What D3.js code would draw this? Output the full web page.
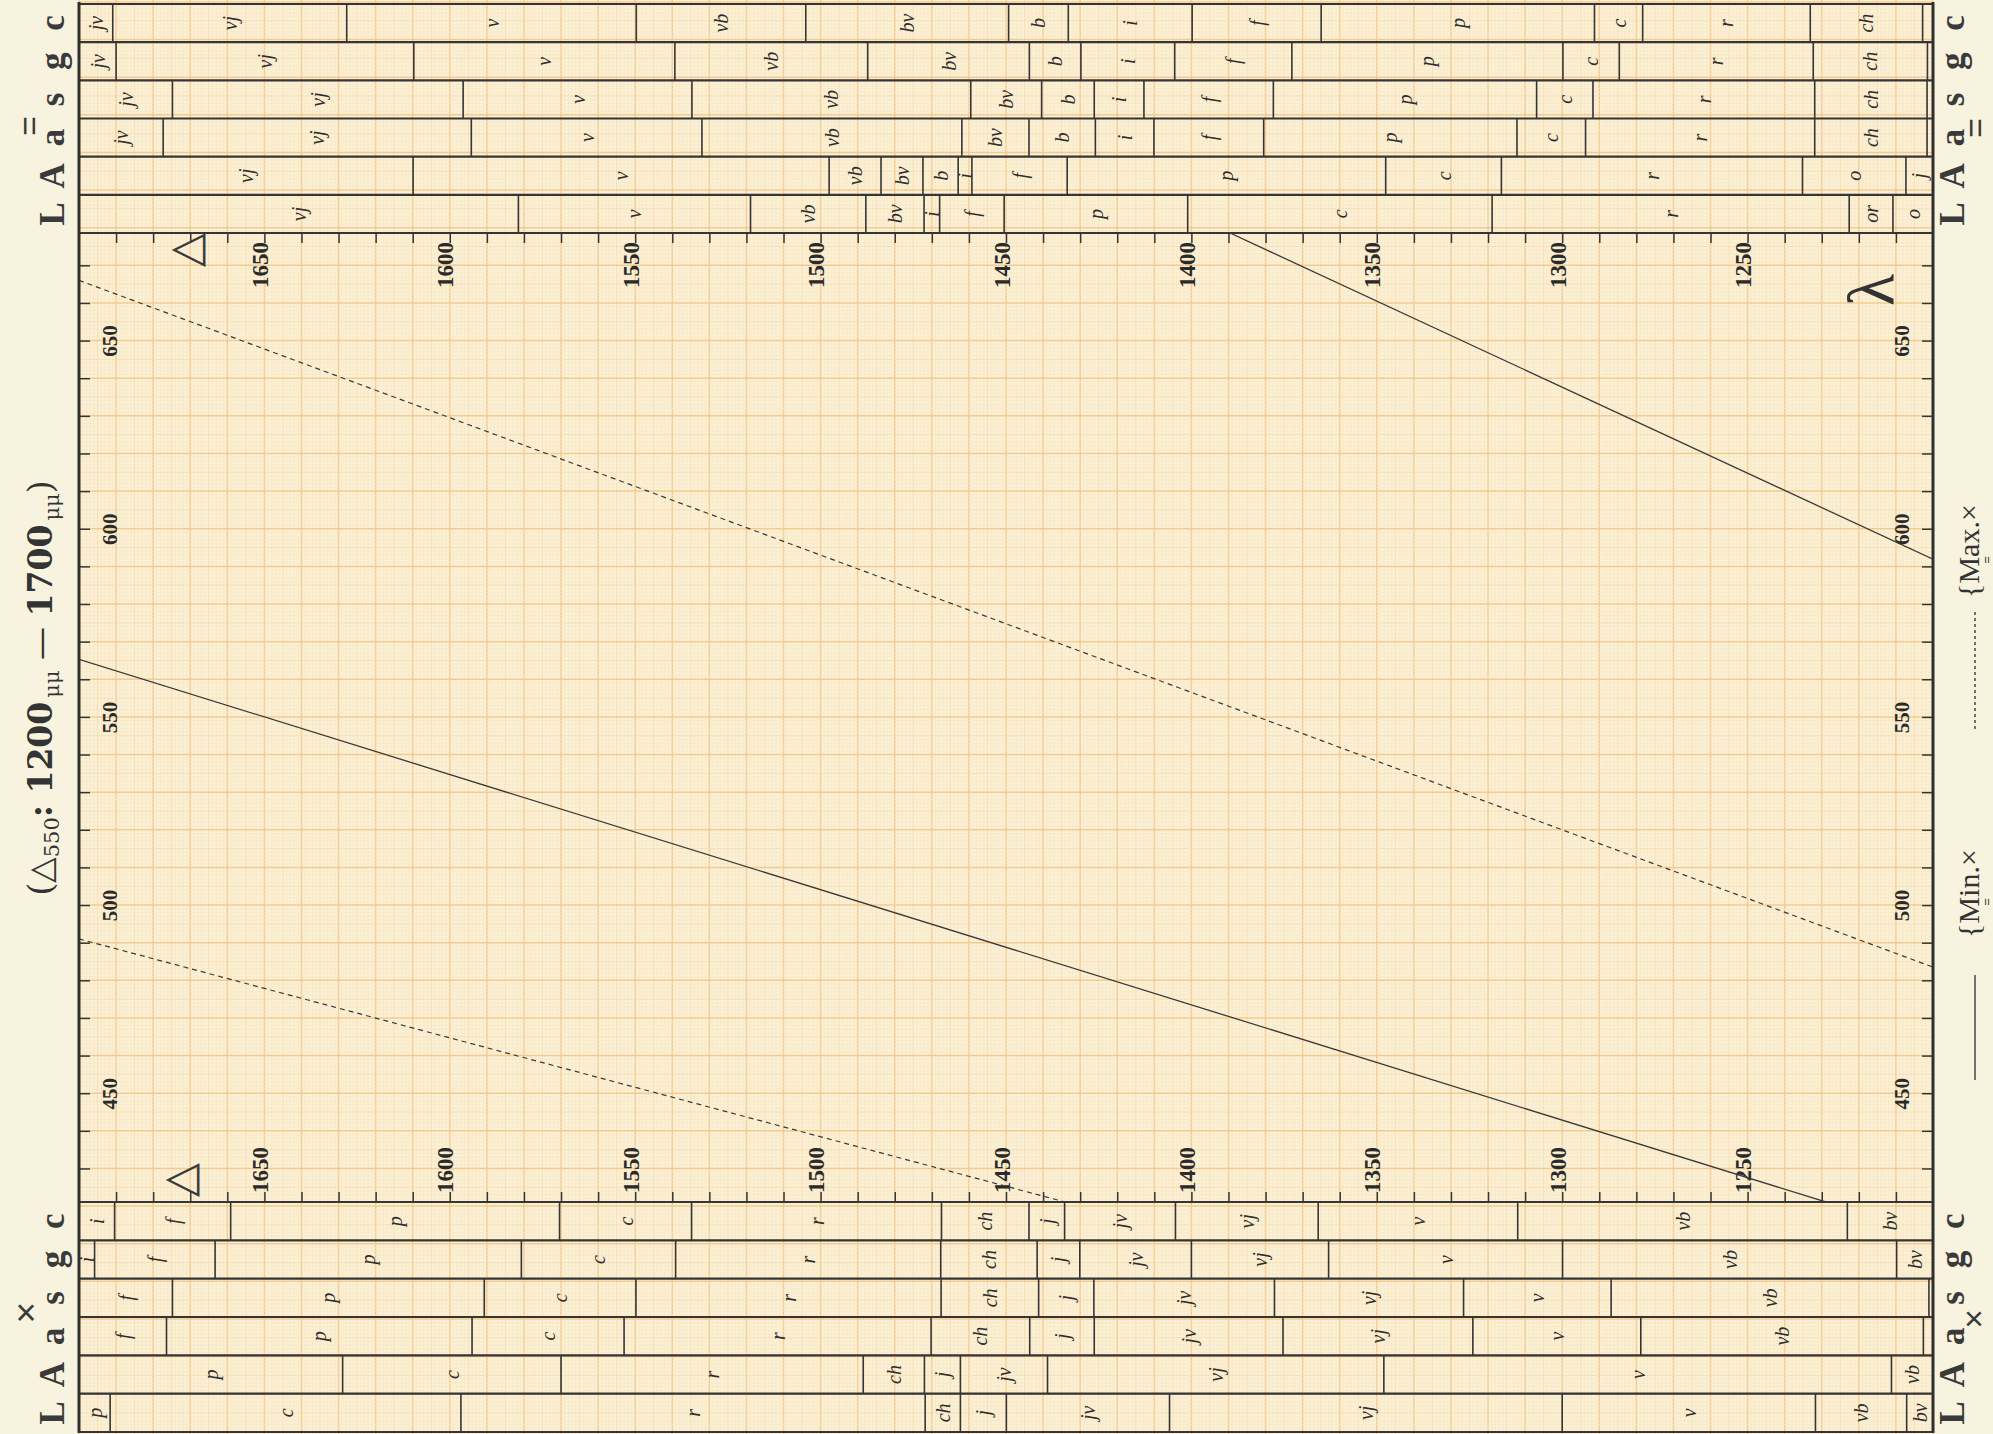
<!DOCTYPE html>
<html>
<head>
<meta charset="utf-8">
<script src="https://cdn.jsdelivr.net/npm/d3@7"></script>
<style>
html, body { margin: 0; padding: 0; background: #f8f3df; }
svg { display: block; }
</style>
</head>
<body>
<script>
// page size
let width = 1993,
    height = 1434;

// rows of both colour bands, top to bottom
const rowNames = ['c', 'g', 's', 'a', 'A', 'L'];

// parallel nicols band (top): cell limits in Δ (μμ) and colour names per row
const parBreaks = [
    [1690.9, 1627.8, 1549.7, 1504.0, 1449.3, 1433.2, 1399.8, 1365.0, 1291.3, 1278.3, 1233.1, 1202.8],
    [1690.0, 1609.7, 1539.3, 1487.3, 1443.7, 1429.8, 1404.5, 1372.9, 1299.8, 1284.6, 1232.3, 1201.5],
    [1674.8, 1596.4, 1534.7, 1459.5, 1440.4, 1426.2, 1412.8, 1377.9, 1306.9, 1291.7, 1231.9, 1201.6],
    [1677.3, 1594.2, 1532.0, 1461.9, 1443.8, 1425.9, 1410.1, 1380.5, 1312.2, 1293.7, 1231.9, 1201.6],
    [1609.9, 1497.7, 1483.7, 1472.4, 1462.9, 1459.2, 1433.5, 1347.6, 1316.4, 1235.2, 1207.3],
    [1581.5, 1518.9, 1487.8, 1472.1, 1467.9, 1450.5, 1401.0, 1318.9, 1222.6, 1210.8]
];
const parColours = [
    ['jv', 'vj', 'v', 'vb', 'bv', 'b', 'i', 'f', 'p', 'c', 'r', 'ch', ''],
    ['jv', 'vj', 'v', 'vb', 'bv', 'b', 'i', 'f', 'p', 'c', 'r', 'ch', ''],
    ['jv', 'vj', 'v', 'vb', 'bv', 'b', 'i', 'f', 'p', 'c', 'r', 'ch', ''],
    ['jv', 'vj', 'v', 'vb', 'bv', 'b', 'i', 'f', 'p', 'c', 'r', 'ch', ''],
    ['vj', 'v', 'vb', 'bv', 'b', 'i', 'f', 'p', 'c', 'r', 'o', 'j'],
    ['vj', 'v', 'vb', 'bv', 'i', 'f', 'p', 'c', 'r', 'or', 'o']
];

// crossed nicols band (bottom)
const crossBreaks = [
    [1690.4, 1659.1, 1570.4, 1534.8, 1467.4, 1443.8, 1434.2, 1404.3, 1365.8, 1312.0, 1223.1],
    [1695.8, 1663.3, 1580.7, 1539.1, 1467.6, 1441.6, 1430.1, 1400.0, 1363.0, 1299.9, 1209.8],
    [1674.8, 1590.7, 1549.8, 1467.5, 1441.2, 1426.3, 1377.6, 1326.6, 1286.8, 1201.1],
    [1676.4, 1594.0, 1553.0, 1470.2, 1443.6, 1426.2, 1375.3, 1324.1, 1278.8, 1202.6],
    [1628.9, 1570.0, 1488.5, 1472.0, 1462.3, 1438.8, 1348.1, 1211.2],
    [1691.6, 1597.0, 1471.8, 1462.3, 1449.9, 1405.9, 1300.0, 1231.7, 1207.1]
];
const crossColours = [
    ['i', 'f', 'p', 'c', 'r', 'ch', 'j', 'jv', 'vj', 'v', 'vb', 'bv'],
    ['i', 'f', 'p', 'c', 'r', 'ch', 'j', 'jv', 'vj', 'v', 'vb', 'bv'],
    ['f', 'p', 'c', 'r', 'ch', 'j', 'jv', 'vj', 'v', 'vb', ''],
    ['f', 'p', 'c', 'r', 'ch', 'j', 'jv', 'vj', 'v', 'vb', ''],
    ['p', 'c', 'r', 'ch', 'j', 'jv', 'vj', 'v', 'vb'],
    ['p', 'c', 'r', 'ch', 'j', 'jv', 'vj', 'v', 'vb', 'bv']
];

// axes
const deltaTicks = [1650, 1600, 1550, 1500, 1450, 1400, 1350, 1300, 1250];
const lambdaTicks = [650, 600, 550, 500, 450];

// curves, [Δ, λ] end points
const minCurves = [
    [[1389.6, 678.6], [1200, 591.9]],
    [[1700, 565.3], [1228.9, 421.1]]
];
const maxCurves = [
    [[1700, 666.0], [1200, 483.5]],
    [[1700, 491.0], [1434.1, 421.1]]
];

// layout
let left = 79, right = 1933,
    topBand = [4, 233],
    botBand = [1202, 1432],
    ink = '#353535';

let x = d3.scaleLinear().domain([1700, 1200]).range([left, right]);
let y = d3.scaleLinear().domain([680, 420]).range([227.7, 1206.1]);

var svg = d3.select('body').append('svg')
    .attr('width', width)
    .attr('height', height)
    .style('font-family', '"Liberation Serif", "DejaVu Serif", serif');

svg.append('rect').attr('width', width).attr('height', height).attr('fill', '#f8f3df');

//1. graph paper
let paper = svg.append('g');
paper.append('rect')
    .attr('x', left).attr('y', 0)
    .attr('width', right - left).attr('height', height)
    .attr('fill', '#fcf1d4');

function gridStyle(v) {
    if (v % 10 === 0) return ['#f3cb92', 1.5];
    if (v % 5 === 0) return ['#f6dcb3', 0.9];
    return ['#f8e7c8', 0.7];
}

d3.range(1200, 1701, 1).forEach(v => {
    let s = gridStyle(v);
    paper.append('line')
        .attr('x1', x(v)).attr('x2', x(v))
        .attr('y1', 0).attr('y2', height)
        .attr('stroke', s[0]).attr('stroke-width', s[1]);
});
d3.range(355, 746, 1).forEach(v => {
    let s = gridStyle(v);
    paper.append('line')
        .attr('x1', left).attr('x2', right)
        .attr('y1', y(v)).attr('y2', y(v))
        .attr('stroke', s[0]).attr('stroke-width', s[1]);
});

//2. colour bands
function drawBand(band, breaks, colours) {
    let g = svg.append('g');
    let rowH = (band[1] - band[0]) / rowNames.length;
    d3.range(rowNames.length + 1).forEach(i => {
        g.append('line')
            .attr('x1', left).attr('x2', right)
            .attr('y1', band[0] + i * rowH).attr('y2', band[0] + i * rowH)
            .attr('stroke', ink).attr('stroke-width', 2.2);
    });
    breaks.forEach((row, i) => {
        let y0 = band[0] + i * rowH;
        let edges = [1700].concat(row, [1200]);
        g.selectAll(null).data(row).enter().append('line')
            .attr('x1', d => x(d)).attr('x2', d => x(d))
            .attr('y1', y0).attr('y2', y0 + rowH)
            .attr('stroke', ink).attr('stroke-width', 1.6);
        g.selectAll(null).data(colours[i]).enter().append('text')
            .attr('transform', (d, k) => {
                let cx = (x(edges[k]) + x(edges[k + 1])) / 2;
                return `translate(${cx},${y0 + rowH / 2}) rotate(-90)`;
            })
            .attr('text-anchor', 'middle')
            .attr('dominant-baseline', 'central')
            .attr('font-style', 'italic')
            .attr('font-size', 20)
            .attr('fill', '#2e2e2e')
            .text(d => d);
    });
    // row names on both sides
    rowNames.forEach((n, i) => {
        [52, 1952].forEach(px => {
            svg.append('text')
                .attr('transform', `translate(${px},${band[0] + (i + 0.5) * rowH}) rotate(-90)`)
                .attr('text-anchor', 'middle')
                .attr('dominant-baseline', 'central')
                .attr('font-size', 35)
                .attr('font-weight', 'bold')
                .attr('fill', '#3a3a3a')
                .text(n);
        });
    });
}
drawBand(topBand, parBreaks, parColours);
drawBand(botBand, crossBreaks, crossColours);

// nicol signs next to the "a" rows (parallel sign turned with the page)
[[29, 126, '=', 34, -90], [1975, 128, '=', 34, -90], [26, 1312, '×', 36, 0], [1974, 1318, '×', 34, 0]].forEach(s => {
    svg.append('text')
        .attr('transform', `translate(${s[0]},${s[1]}) rotate(${s[4]})`)
        .attr('text-anchor', 'middle')
        .attr('dominant-baseline', 'central')
        .attr('font-family', '"Liberation Sans", sans-serif')
        .attr('font-size', s[3])
        .attr('fill', '#3a3a3a')
        .text(s[2]);
});

//3. axes
let deltaMinor = d3.range(1690, 1200, -10);

let topAxis = svg.append('g')
    .attr('transform', `translate(0,${topBand[1]})`)
    .call(d3.axisBottom(x).tickValues(deltaMinor).tickSize(10)
        .tickFormat(d => deltaTicks.includes(d) ? d : ''));
topAxis.selectAll('text')
    .attr('transform', 'rotate(-90)')
    .attr('x', -9).attr('y', 3).attr('dy', 0)
    .attr('text-anchor', 'end');

let botAxis = svg.append('g')
    .attr('transform', `translate(0,${botBand[0]})`)
    .call(d3.axisTop(x).tickValues(deltaMinor).tickSize(10)
        .tickFormat(d => deltaTicks.includes(d) ? d : ''));
botAxis.selectAll('text')
    .attr('transform', 'rotate(-90)')
    .attr('x', 9).attr('y', 3).attr('dy', 0)
    .attr('text-anchor', 'start');

let lambdaMinor = d3.range(670, 425, -10);

let leftAxis = svg.append('g')
    .attr('transform', `translate(${left},0)`)
    .call(d3.axisRight(y).tickValues(lambdaMinor).tickSize(11)
        .tickFormat(d => lambdaTicks.includes(d) ? d : ''));
leftAxis.selectAll('text')
    .attr('transform', 'rotate(-90)')
    .attr('x', 0).attr('y', 38).attr('dy', 0)
    .attr('text-anchor', 'middle');

let rightAxis = svg.append('g')
    .attr('transform', `translate(${right},0)`)
    .call(d3.axisLeft(y).tickValues(lambdaMinor).tickSize(11)
        .tickFormat(d => lambdaTicks.includes(d) ? d : ''));
rightAxis.selectAll('text')
    .attr('transform', 'rotate(-90)')
    .attr('x', 0).attr('y', -24).attr('dy', 0)
    .attr('text-anchor', 'middle');

[topAxis, botAxis].forEach(a => a.selectAll('text')
    .attr('font-size', 23).attr('font-weight', 'bold')
    .attr('font-family', '"Liberation Serif", serif').attr('fill', '#2a2a2a'));
[leftAxis, rightAxis].forEach(a => a.selectAll('text')
    .attr('font-size', 21).attr('font-weight', 'bold')
    .attr('font-family', '"Liberation Serif", serif').attr('fill', '#2a2a2a'));
[topAxis, botAxis, leftAxis, rightAxis].forEach(a => {
    a.select('.domain').remove();
    a.selectAll('line').attr('stroke', ink).attr('stroke-width', 1.5);
});

//4. curves
svg.append('clipPath').attr('id', 'plot')
    .append('rect')
    .attr('x', left).attr('y', topBand[1])
    .attr('width', right - left).attr('height', botBand[0] - topBand[1]);

let line = d3.line().x(d => x(d[0])).y(d => y(d[1]));
let curves = svg.append('g').attr('clip-path', 'url(#plot)');

curves.selectAll('.min').data(minCurves).enter().append('path')
    .attr('class', 'min')
    .attr('d', line)
    .attr('fill', 'none').attr('stroke', '#3a3a3a').attr('stroke-width', 1.3);

curves.selectAll('.max').data(maxCurves).enter().append('path')
    .attr('class', 'max')
    .attr('d', line)
    .attr('fill', 'none').attr('stroke', '#3a3a3a').attr('stroke-width', 1.2)
    .attr('stroke-dasharray', '5,4');

//5. frame
[left, right].forEach(px => {
    svg.append('line')
        .attr('x1', px).attr('x2', px)
        .attr('y1', 2).attr('y2', 1433)
        .attr('stroke', '#2f2f2f').attr('stroke-width', 3);
});

//6. titles and symbols
let title = svg.append('text')
    .attr('transform', 'translate(52,688) rotate(-90)')
    .attr('text-anchor', 'middle')
    .attr('font-family', '"DejaVu Serif", serif')
    .attr('font-size', 33)
    .attr('font-weight', 'bold')
    .attr('fill', '#333');
title.append('tspan').attr('font-weight', 'normal').text('(');
title.append('tspan').attr('font-family', '"DejaVu Sans", sans-serif').attr('font-weight', 'normal').text('△');
title.append('tspan').attr('font-size', 21).attr('dy', 7).attr('font-weight', 'normal').text('550');
title.append('tspan').attr('dy', -7).text(': 1200');
title.append('tspan').attr('font-size', 21).attr('dy', 7).attr('dx', 4).attr('font-weight', 'normal').text('μμ');
title.append('tspan').attr('dy', -7).attr('font-weight', 'normal').text(' — ');
title.append('tspan').text('1700');
title.append('tspan').attr('font-size', 21).attr('dy', 7).attr('dx', 4).attr('font-weight', 'normal').text('μμ');
title.append('tspan').attr('dy', -7).attr('font-weight', 'normal').text(')');

[[200, 250], [194, 1180]].forEach(p => {
    svg.append('text')
        .attr('transform', `translate(${p[0]},${p[1]}) rotate(-90)`)
        .attr('text-anchor', 'middle')
        .attr('font-family', '"DejaVu Sans", sans-serif')
        .attr('font-size', 44)
        .attr('fill', '#3a3a3a')
        .text('△');
});

svg.append('text')
    .attr('transform', 'translate(1893,290) rotate(-90)')
    .attr('text-anchor', 'middle')
    .attr('font-size', 66)
    .attr('fill', '#333')
    .text('λ');

//7. legend on the right margin
function legendEntry(y0, y1, dash, label, textY, markY) {
    let l = svg.append('line')
        .attr('x1', 1975).attr('x2', 1975)
        .attr('y1', y0).attr('y2', y1)
        .attr('stroke', '#3a3a3a').attr('stroke-width', 1.4);
    if (dash) l.attr('stroke-dasharray', '3,3');
    svg.append('text')
        .attr('transform', `translate(1979,${textY}) rotate(-90)`)
        .attr('font-size', 30)
        .attr('fill', '#333')
        .text(label);
    svg.append('text')
        .attr('transform', `translate(1986,${markY}) rotate(-90)`)
        .attr('text-anchor', 'middle')
        .attr('dominant-baseline', 'central')
        .attr('font-family', '"Liberation Sans", sans-serif')
        .attr('font-size', 13)
        .attr('fill', '#333')
        .text('=');
}
legendEntry(612, 732, true, '{Max.×', 598, 560);
legendEntry(975, 1080, false, '{Min.×', 938, 902);
</script>
</body>
</html>
